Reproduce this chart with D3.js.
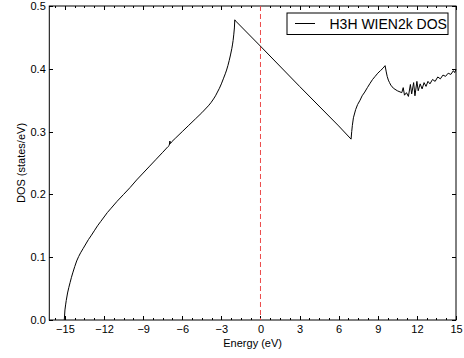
<!DOCTYPE html>
<html>
<head>
<meta charset="utf-8">
<script src="https://cdn.jsdelivr.net/npm/d3@7"></script>
<style>
  body { margin: 0; background: #fff; }
  svg { display: block; font-family: "Liberation Sans", Arial, sans-serif; }
  .axis path, .axis line { stroke: #000; shape-rendering: crispEdges; }
  .axis text { font-size: 11px; fill: #000; }
</style>
</head>
<body>
<div class="chart"></div>
<script>
// energy (eV) and DOS (states/eV)
var energy = [-15.05, -15.0, -14.95, -14.9, -14.8, -14.7, -14.6, -14.5, -14.4, -14.25,
    -14.1, -13.95, -13.8, -13.6, -13.4, -13.2, -13.0, -12.75, -12.5, -12.25,
    -12.0, -11.75, -11.5, -11.0, -10.5, -10.0, -9.5, -9.0, -8.5, -8.0,
    -7.5, -7.1, -7.0, -6.95, -6.9, -6.8, -6.5, -6.0, -5.5, -5.0,
    -4.5, -4.0, -3.8, -3.6, -3.45, -3.3, -3.15, -3.0, -2.85, -2.7,
    -2.6, -2.5, -2.4, -2.3, -2.2, -2.15, -2.1, -2.05, -2.0, -1.97, -1.9,
    0.0, 3.0, 6.0, 6.95, 7.0, 7.05, 7.13, 7.3, 7.45, 7.64,
    7.8, 8.0, 8.2, 8.41, 8.6, 8.8, 9.0, 9.2, 9.4, 9.56,
    9.65, 9.72, 9.81, 9.9, 10.0, 10.2, 10.5, 10.84, 10.95,
    11.05, 11.2, 11.35, 11.5, 11.6, 11.75, 11.85, 12.0, 12.1, 12.25,
    12.4, 12.55, 12.7, 12.85, 13.0, 13.2, 13.4, 13.6, 13.8, 14.0,
    14.2, 14.4, 14.6, 14.8, 14.9, 15.0];
var dos = [0.0, 0.016, 0.024, 0.031, 0.043, 0.052, 0.060, 0.068, 0.075, 0.085,
    0.094, 0.101, 0.107, 0.114, 0.121, 0.128, 0.134, 0.142, 0.150, 0.157,
    0.164, 0.171, 0.177, 0.189, 0.200, 0.211, 0.223, 0.234, 0.245, 0.256,
    0.267, 0.276, 0.278, 0.285, 0.281, 0.284, 0.290, 0.300, 0.310, 0.320,
    0.330, 0.341, 0.346, 0.352, 0.357, 0.363, 0.369, 0.376, 0.384, 0.392,
    0.398, 0.405, 0.413, 0.422, 0.432, 0.438, 0.445, 0.454, 0.465, 0.478, 0.476,
    0.436, 0.372, 0.309, 0.288, 0.300, 0.310, 0.322, 0.335, 0.343, 0.350,
    0.357, 0.363, 0.370, 0.377, 0.383, 0.388, 0.393, 0.397, 0.401, 0.405,
    0.395, 0.388, 0.382, 0.378, 0.374, 0.369, 0.365, 0.362, 0.370,
    0.358, 0.362, 0.356, 0.375, 0.360, 0.378, 0.357, 0.380, 0.365, 0.376,
    0.368, 0.378, 0.372, 0.380, 0.376, 0.383, 0.380, 0.387, 0.384, 0.390,
    0.388, 0.393, 0.391, 0.397, 0.394, 0.399];

var xTicks = [-15, -12, -9, -6, -3, 0, 3, 6, 9, 12, 15];
var yTicks = [0.0, 0.1, 0.2, 0.3, 0.4, 0.5];
var legendLabel = "H3H WIEN2k DOS";
var fermiLevel = 0;

var W = 464, H = 358;
var margin = { top: 6, right: 8, bottom: 38, left: 49.3 };
var width = W - margin.left - margin.right,
    height = H - margin.top - margin.bottom;

var x = d3.scaleLinear().domain([-16.2, 15]).range([0, width]);
var y = d3.scaleLinear().domain([0, 0.5]).range([height, 0]);

var svg = d3.select(".chart").append("svg")
    .attr("width", W)
    .attr("height", H)
    .append("g")
    .attr("transform", "translate(" + margin.left + "," + margin.top + ")");

// minor ticks every 0.75 eV on top and bottom
var minor = [];
for (var v = -15.75; v <= 15.001; v += 0.75) {
    if (Math.abs(v / 3 - Math.round(v / 3)) > 1e-6) minor.push(v);
}

var fmtX = d => d3.format("d")(d).replace("-", "\u2212");

svg.append("g")
    .attr("class", "axis")
    .attr("transform", "translate(0," + height + ")")
    .call(d3.axisBottom(x).tickValues(minor).tickSize(-2).tickFormat(""))
    .call(g => g.select(".domain").remove());
svg.append("g")
    .attr("class", "axis")
    .call(d3.axisTop(x).tickValues(minor).tickSize(-2).tickFormat(""))
    .call(g => g.select(".domain").remove());

svg.append("g")
    .attr("class", "axis xAxis")
    .attr("transform", "translate(0," + height + ")")
    .call(d3.axisBottom(x).tickValues(xTicks).tickSize(-4).tickPadding(5).tickFormat(fmtX))
    .call(g => g.select(".domain").remove());
svg.append("g")
    .attr("class", "axis")
    .call(d3.axisTop(x).tickValues(xTicks).tickSize(-4).tickFormat(""))
    .call(g => g.select(".domain").remove());

svg.append("g")
    .attr("class", "axis yAxis")
    .call(d3.axisLeft(y).tickValues(yTicks).tickSize(-4).tickPadding(3.5).tickFormat(d3.format(".1f")))
    .call(g => g.select(".domain").remove());
svg.append("g")
    .attr("class", "axis")
    .attr("transform", "translate(" + width + ",0)")
    .call(d3.axisRight(y).tickValues(yTicks).tickSize(-4).tickFormat(""))
    .call(g => g.select(".domain").remove());

// frame
svg.append("rect")
    .attr("width", width)
    .attr("height", height)
    .attr("fill", "none")
    .attr("stroke", "#000")
    .attr("stroke-width", 1);

// fermi level
svg.append("line")
    .attr("x1", x(fermiLevel)).attr("x2", x(fermiLevel))
    .attr("y1", 0).attr("y2", height)
    .attr("stroke", "#ec4a4a")
    .attr("stroke-width", 1)
    .attr("stroke-dasharray", "5,3");

var pts = energy.map((e, i) => [e, dos[i]]);
var line = d3.line().x(d => x(d[0])).y(d => y(d[1]));
svg.append("path")
    .datum(pts)
    .attr("d", line)
    .attr("fill", "none")
    .attr("stroke", "#000")
    .attr("stroke-width", 1);

// axis labels
svg.append("text")
    .attr("x", width / 2)
    .attr("y", height + 27)
    .attr("text-anchor", "middle")
    .style("font-size", "11px")
    .text("Energy (eV)");
svg.append("text")
    .attr("transform", "translate(" + (25 - margin.left) + "," + (height / 2) + ") rotate(-90)")
    .attr("text-anchor", "middle")
    .style("font-size", "11px")
    .text("DOS (states/eV)");

// legend
var lg = svg.append("g").attr("transform", "translate(" + (287 - margin.left) + "," + (13 - margin.top) + ")");
lg.append("rect")
    .attr("width", 161).attr("height", 21.5)
    .attr("fill", "#fff").attr("stroke", "#000").attr("stroke-width", 1);
lg.append("line")
    .attr("x1", 8).attr("x2", 28).attr("y1", 10.5).attr("y2", 10.5)
    .attr("stroke", "#000").attr("stroke-width", 1);
lg.append("text")
    .attr("x", 42.5).attr("y", 15.5)
    .style("font-size", "14px")
    .text(legendLabel);
</script>
</body>
</html>
